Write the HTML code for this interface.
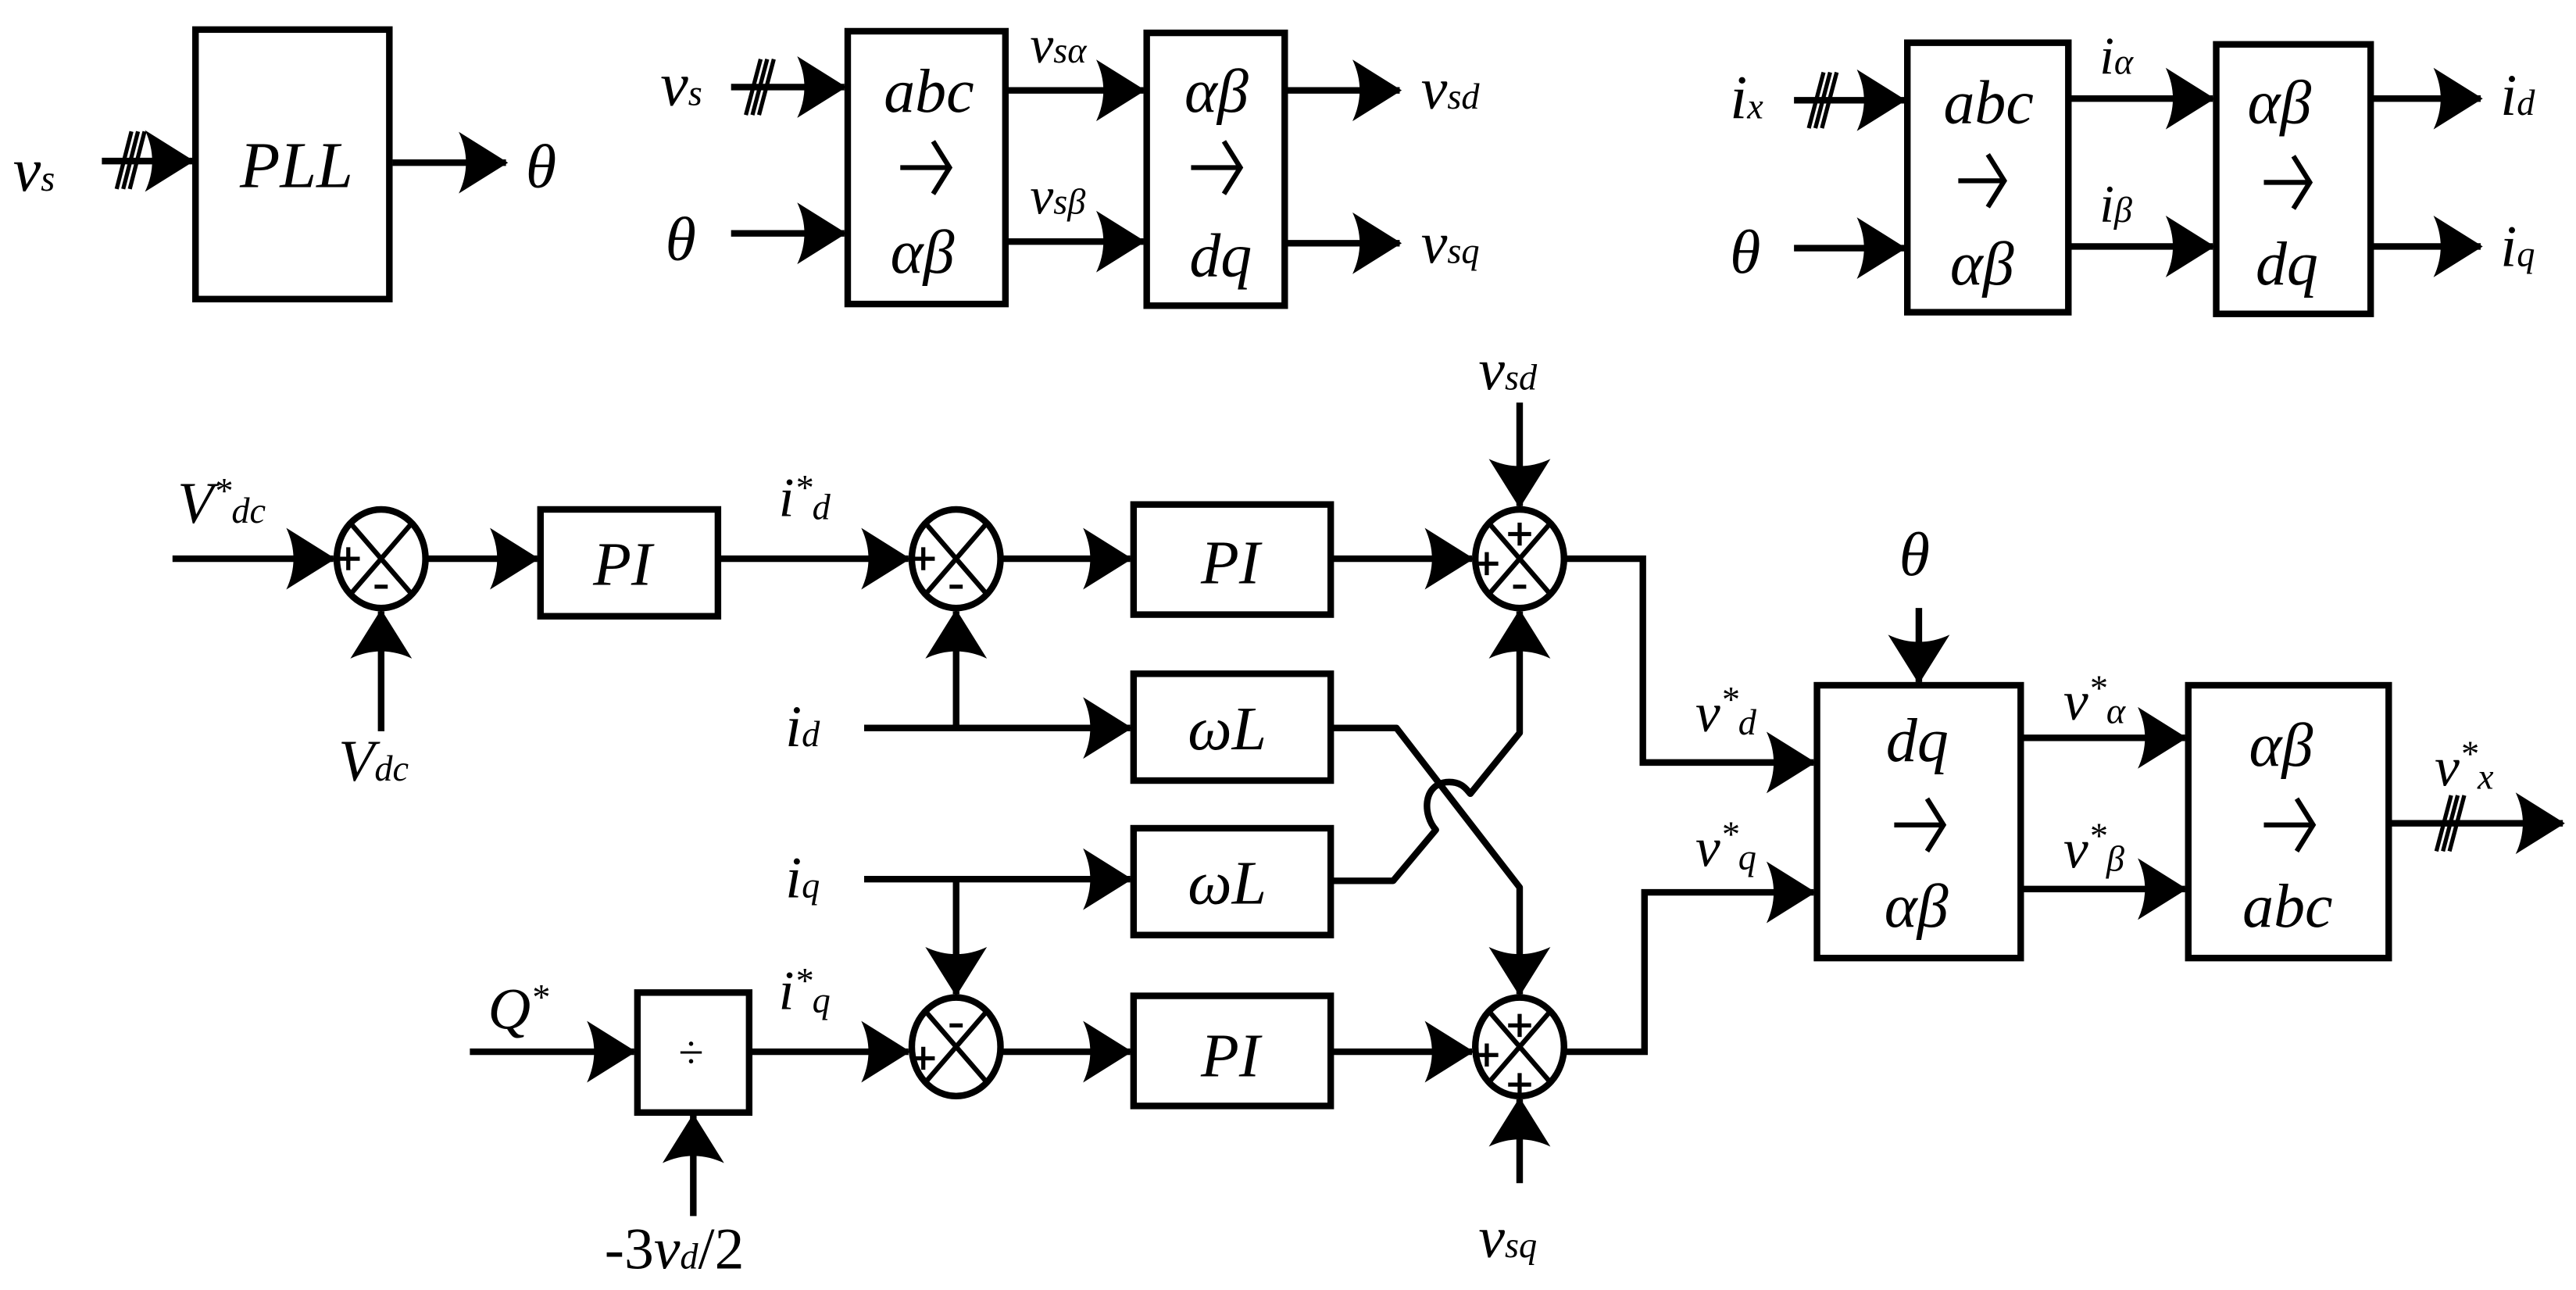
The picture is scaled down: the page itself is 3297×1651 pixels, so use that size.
<!DOCTYPE html>
<html><head><meta charset="utf-8"><style>
html,body{margin:0;padding:0;background:#fff;}
svg{display:block;}
text{font-family:"Liberation Serif",serif;font-style:italic;fill:#000;}
.s{font-size:22px;}
</style></head><body>
<svg width="3297" height="1651" viewBox="0 0 1568 785" preserveAspectRatio="none" xmlns="http://www.w3.org/2000/svg">
<defs>
<marker id="a" markerUnits="userSpaceOnUse" markerWidth="40" markerHeight="40" refX="0" refY="0" viewBox="-26 -16 28 32" orient="auto" overflow="visible">
<path d="M1,0 L-23,-15 Q-16,0 -23,15 Z" fill="#000"/>
</marker>
</defs>
<g fill="none" stroke="#000" stroke-width="4">
<rect x="119" y="18" width="118" height="164"/>
<line x1="62" y1="98" x2="117" y2="98" marker-end="url(#a)"/>
<line x1="239" y1="99" x2="308" y2="99" marker-end="url(#a)"/>
<rect x="516" y="19" width="96" height="166"/>
<rect x="698" y="20" width="84" height="166"/>
<line x1="445" y1="53" x2="514" y2="53" marker-end="url(#a)"/>
<line x1="445" y1="142" x2="514" y2="142" marker-end="url(#a)"/>
<line x1="613" y1="55" x2="696" y2="55" marker-end="url(#a)"/>
<line x1="613" y1="147" x2="696" y2="147" marker-end="url(#a)"/>
<line x1="783" y1="55" x2="852" y2="55" marker-end="url(#a)"/>
<line x1="783" y1="148" x2="852" y2="148" marker-end="url(#a)"/>
<rect x="1161" y="26" width="98" height="164"/>
<rect x="1349" y="27" width="94" height="164"/>
<line x1="1092" y1="61" x2="1159" y2="61" marker-end="url(#a)"/>
<line x1="1092" y1="151" x2="1159" y2="151" marker-end="url(#a)"/>
<line x1="1260" y1="60" x2="1347" y2="60" marker-end="url(#a)"/>
<line x1="1260" y1="150" x2="1347" y2="150" marker-end="url(#a)"/>
<line x1="1444" y1="60" x2="1510" y2="60" marker-end="url(#a)"/>
<line x1="1444" y1="150" x2="1510" y2="150" marker-end="url(#a)"/>
<rect x="329" y="310" width="108" height="65"/>
<rect x="690" y="307" width="120" height="67"/>
<rect x="690" y="410" width="120" height="65"/>
<rect x="690" y="504" width="120" height="65"/>
<rect x="690" y="606" width="120" height="67"/>
<rect x="388" y="604" width="68" height="73"/>
<rect x="1106" y="417" width="124" height="166"/>
<rect x="1332" y="417" width="122" height="166"/>
<ellipse cx="232" cy="340" rx="27" ry="30"/>
<ellipse cx="582" cy="340" rx="27" ry="30"/>
<ellipse cx="925" cy="340" rx="27" ry="30"/>
<ellipse cx="582" cy="637" rx="27" ry="30"/>
<ellipse cx="925" cy="637" rx="27" ry="30"/>
<g stroke-width="3">
<path d="M213,318 L251,362 M251,318 L213,362"/>
<path d="M563,318 L601,362 M601,318 L563,362"/>
<path d="M906,318 L944,362 M944,318 L906,362"/>
<path d="M563,615 L601,659 M601,615 L563,659"/>
<path d="M906,615 L944,659 M944,615 L906,659"/>
</g>
<line x1="105" y1="340" x2="203" y2="340" marker-end="url(#a)"/>
<line x1="232" y1="445" x2="232" y2="372" marker-end="url(#a)"/>
<line x1="259" y1="340" x2="327" y2="340" marker-end="url(#a)"/>
<line x1="438" y1="340" x2="553" y2="340" marker-end="url(#a)"/>
<line x1="609" y1="340" x2="688" y2="340" marker-end="url(#a)"/>
<line x1="811" y1="340" x2="896" y2="340" marker-end="url(#a)"/>
<line x1="925" y1="245" x2="925" y2="308" marker-end="url(#a)"/>
<polyline points="952,340 1000,340 1000,464 1104,464" marker-end="url(#a)"/>
<line x1="526" y1="443" x2="688" y2="443" marker-end="url(#a)"/>
<line x1="582" y1="443" x2="582" y2="372" marker-end="url(#a)"/>
<line x1="526" y1="535" x2="688" y2="535" marker-end="url(#a)"/>
<line x1="582" y1="535" x2="582" y2="605" marker-end="url(#a)"/>
<!-- crossing -->
<polyline points="811,443 850,443 925,540 925,605" stroke-linejoin="round" marker-end="url(#a)"/>
<path d="M811,536 L848,536 L874,505 C866,496 866,478 880,476 C890,475 893,481 895,483 L925,446 L925,372" stroke-linejoin="round" marker-end="url(#a)"/>
<line x1="286" y1="640" x2="386" y2="640" marker-end="url(#a)"/>
<line x1="422" y1="740" x2="422" y2="679" marker-end="url(#a)"/>
<line x1="457" y1="640" x2="553" y2="640" marker-end="url(#a)"/>
<line x1="609" y1="640" x2="688" y2="640" marker-end="url(#a)"/>
<line x1="811" y1="640" x2="896" y2="640" marker-end="url(#a)"/>
<line x1="925" y1="720" x2="925" y2="669" marker-end="url(#a)"/>
<polyline points="952,640 1001,640 1001,543 1104,543" marker-end="url(#a)"/>
<line x1="1168" y1="370" x2="1168" y2="415" marker-end="url(#a)"/>
<line x1="1231" y1="449" x2="1330" y2="449" marker-end="url(#a)"/>
<line x1="1231" y1="541" x2="1330" y2="541" marker-end="url(#a)"/>
<line x1="1455" y1="501" x2="1560" y2="501" marker-end="url(#a)"/>
<g stroke-width="2.5">
<path d="M71,115 L80,80 M75,115 L84,80 M79,115 L88,80"/>
<path d="M454,70 L463,36 M458,70 L467,36 M462,70 L471,36"/>
<path d="M1101,78 L1110,44 M1105,78 L1114,44 M1109,78 L1118,44"/>
<path d="M1483,518 L1492,484 M1487,518 L1496,484 M1491,518 L1500,484"/>
</g>
<g stroke-width="3">
<path d="M548,102 L578,102 M568,86 L578,102 L568,118"/>
<path d="M725,102 L755,102 M745,86 L755,102 L745,118"/>
<path d="M1192,110 L1220,110 M1210,94 L1220,110 L1210,126"/>
<path d="M1378,111 L1406,111 M1396,95 L1406,111 L1396,127"/>
<path d="M1153,502 L1183,502 M1173,486 L1183,502 L1173,518"/>
<path d="M1378,502 L1408,502 M1398,486 L1408,502 L1398,518"/>
</g>
<g stroke-width="2.5">
<path d="M205,340 L219,340 M212,333 L212,347"/>
<path d="M228,357 L236,357"/>
<path d="M555,340 L569,340 M562,333 L562,347"/>
<path d="M578,357 L586,357"/>
<path d="M898,343 L912,343 M905,336 L905,350"/>
<path d="M918,325 L932,325 M925,318 L925,332"/>
<path d="M921,357 L929,357"/>
<path d="M555,644 L569,644 M562,637 L562,651"/>
<path d="M578,624 L586,624"/>
<path d="M898,642 L912,642 M905,635 L905,649"/>
<path d="M918,624 L932,624 M925,617 L925,631"/>
<path d="M918,660 L932,660 M925,653 L925,667"/>
</g>
</g>
<text x="8" y="116" font-size="38">v<tspan class="s">s</tspan></text>
<text x="146" y="114" font-size="40">PLL</text>
<text x="320" y="114" font-size="38">θ</text>
<text x="402" y="64" font-size="38">v<tspan class="s">s</tspan></text>
<text x="405" y="158" font-size="38">θ</text>
<text x="538" y="68" font-size="38">abc</text>
<text x="542" y="166" font-size="38">αβ</text>
<text x="627" y="38" font-size="32">v<tspan class="s">sα</tspan></text>
<text x="627" y="130" font-size="32">v<tspan class="s">sβ</tspan></text>
<text x="721" y="68" font-size="38">αβ</text>
<text x="724" y="168" font-size="38">dq</text>
<text x="865" y="66" font-size="36">v<tspan class="s">sd</tspan></text>
<text x="865" y="160" font-size="36">v<tspan class="s">sq</tspan></text>
<text x="1053" y="72" font-size="38">i<tspan class="s">x</tspan></text>
<text x="1053" y="166" font-size="38">θ</text>
<text x="1183" y="75" font-size="38">abc</text>
<text x="1187" y="173" font-size="38">αβ</text>
<text x="1278" y="45" font-size="32">i<tspan class="s">α</tspan></text>
<text x="1278" y="135" font-size="32">i<tspan class="s">β</tspan></text>
<text x="1368" y="75" font-size="38">αβ</text>
<text x="1373" y="173" font-size="38">dq</text>
<text x="1522" y="70" font-size="36">i<tspan class="s">d</tspan></text>
<text x="1522" y="162" font-size="36">i<tspan class="s">q</tspan></text>
<text x="108" y="318" font-size="36">V<tspan class="s" dy="-12">*</tspan><tspan class="s" dy="12">dc</tspan></text>
<text x="206" y="475" font-size="36">V<tspan class="s">dc</tspan></text>
<text x="361" y="356" font-size="38">PI</text>
<text x="474" y="314" font-size="34">i<tspan class="s" dy="-10">*</tspan><tspan class="s" dy="12">d</tspan></text>
<text x="731" y="355" font-size="38">PI</text>
<text x="900" y="237" font-size="36">v<tspan class="s">sd</tspan></text>
<text x="478" y="454" font-size="36">i<tspan class="s">d</tspan></text>
<text x="478" y="546" font-size="36">i<tspan class="s">q</tspan></text>
<text x="723" y="456" font-size="38">ωL</text>
<text x="723" y="550" font-size="38">ωL</text>
<text x="297" y="626" font-size="36">Q<tspan class="s" dy="-12">*</tspan></text>
<text x="413" y="650" font-size="28" style="font-style:normal">÷</text>
<text x="474" y="614" font-size="34">i<tspan class="s" dy="-10">*</tspan><tspan class="s" dy="12">q</tspan></text>
<text x="731" y="655" font-size="38">PI</text>
<text x="368" y="772" font-size="36" style="font-style:normal">-3<tspan style="font-style:italic">v</tspan><tspan class="s" style="font-style:italic">d</tspan>/2</text>
<text x="900" y="765" font-size="36">v<tspan class="s">sq</tspan></text>
<text x="1156" y="350" font-size="38">θ</text>
<text x="1032" y="445" font-size="34">v<tspan class="s" dy="-12">*</tspan><tspan class="s" dy="14">d</tspan></text>
<text x="1032" y="527" font-size="34">v<tspan class="s" dy="-12">*</tspan><tspan class="s" dy="14">q</tspan></text>
<text x="1148" y="463" font-size="38">dq</text>
<text x="1147" y="564" font-size="38">αβ</text>
<text x="1256" y="438" font-size="34">v<tspan class="s" dy="-12">*</tspan><tspan class="s" dy="14">α</tspan></text>
<text x="1256" y="528" font-size="34">v<tspan class="s" dy="-12">*</tspan><tspan class="s" dy="14">β</tspan></text>
<text x="1369" y="466" font-size="38">αβ</text>
<text x="1365" y="564" font-size="38">abc</text>
<text x="1482" y="478" font-size="34">v<tspan class="s" dy="-12">*</tspan><tspan class="s" dy="14">x</tspan></text>
</svg>
</body></html>
